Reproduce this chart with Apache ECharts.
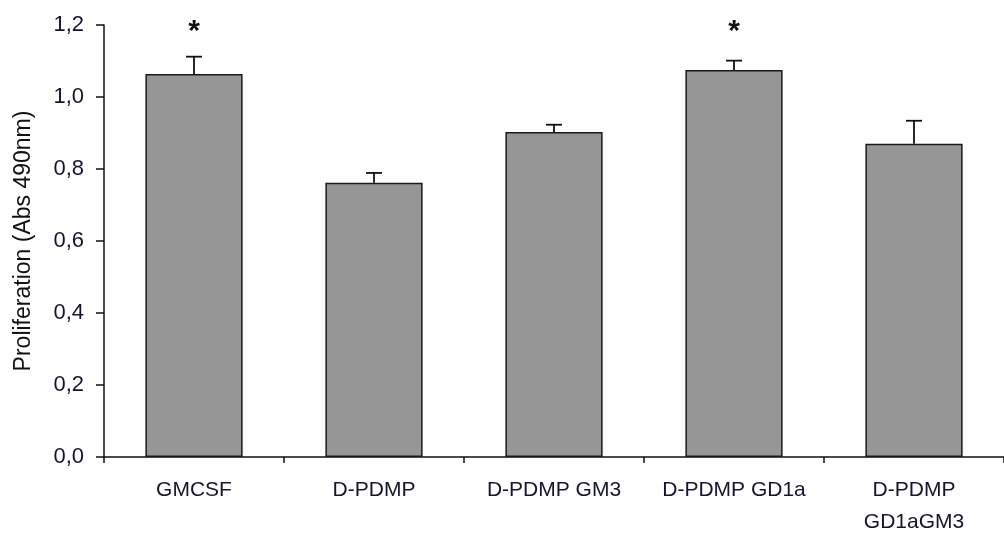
<!DOCTYPE html>
<html>
<head>
<meta charset="utf-8">
<script src="https://cdn.jsdelivr.net/npm/echarts@6/dist/echarts.min.js"></script>
<style>
html,body{margin:0;padding:0;background:#fff;}
#chart{width:1004px;height:538px;}
</style>
</head>
<body>
<div id="chart"></div>
<script>
var categories = ['GMCSF', 'D-PDMP', 'D-PDMP GM3', 'D-PDMP GD1a', 'D-PDMP\nGD1aGM3'];
var means = [1.064, 0.762, 0.903, 1.075, 0.870];
var errTops = [1.112, 0.789, 0.923, 1.101, 0.934];
var sigMarks = ['*', '', '', '*', ''];
var sigLevel = [1.195, null, null, 1.195, null];
var yTicks = [0, 0.2, 0.4, 0.6, 0.8, 1.0, 1.2];

var FONT = 'Liberation Sans, Arial, sans-serif';
var chart = echarts.init(document.getElementById('chart'), null, {renderer: 'canvas'});

var errData = categories.map(function (c, i) { return [i, means[i], errTops[i]]; });
var starData = categories.map(function (c, i) { return [i, sigLevel[i], sigMarks[i]]; })
  .filter(function (d) { return d[2] !== ''; });

chart.setOption({
  animation: false,
  backgroundColor: '#ffffff',
  grid: {left: 104, right: -5, top: 25, bottom: 80, containLabel: false},
  xAxis: {
    type: 'category',
    data: categories,
    boundaryGap: true,
    axisLine: {show: true, lineStyle: {color: '#111', width: 1.5}},
    axisTick: {show: true, length: 6, alignWithLabel: false, lineStyle: {color: '#111', width: 1.5}},
    axisLabel: {
      color: '#151530', fontFamily: FONT, fontSize: 21, margin: 17,
      lineHeight: 32, interval: 0
    },
    splitLine: {show: false}
  },
  yAxis: {
    type: 'value',
    min: yTicks[0],
    max: yTicks[yTicks.length - 1],
    interval: 0.2,
    name: 'Proliferation (Abs 490nm)',
    nameLocation: 'middle',
    nameGap: 69,
    nameTextStyle: {color: '#111', fontFamily: FONT, fontSize: 23},
    axisLine: {show: true, lineStyle: {color: '#111', width: 1.5}},
    axisTick: {show: true, length: 8, lineStyle: {color: '#111', width: 1.5}},
    axisLabel: {
      color: '#151530', fontFamily: FONT, fontSize: 22, margin: 20,
      formatter: function (v) { return v.toFixed(1).replace('.', ','); }
    },
    splitLine: {show: false}
  },
  series: [
    {
      type: 'bar',
      data: means,
      barWidth: '54%',
      itemStyle: {color: '#969696', borderColor: '#1a1a1a', borderWidth: 1.5},
      z: 2
    },
    {
      type: 'custom',
      data: errData,
      z: 3,
      renderItem: function (params, api) {
        var x = api.value(0);
        var base = api.coord([x, api.value(1)]);
        var top = api.coord([x, api.value(2)]);
        var cap = 8;
        var st = {stroke: '#111', lineWidth: 1.8};
        return {
          type: 'group',
          children: [
            {type: 'line', shape: {x1: base[0], y1: base[1], x2: top[0], y2: top[1]}, style: st},
            {type: 'line', shape: {x1: top[0] - cap, y1: top[1], x2: top[0] + cap, y2: top[1]}, style: st}
          ]
        };
      }
    },
    {
      type: 'custom',
      data: starData,
      z: 4,
      renderItem: function (params, api) {
        var p = api.coord([api.value(0), api.value(1)]);
        return {
          type: 'text',
          style: {
            x: p[0], y: p[1] + 5, text: sigMarks[api.value(0)],
            fill: '#111', font: 'bold 30px ' + FONT,
            textAlign: 'center', textVerticalAlign: 'middle'
          }
        };
      }
    }
  ]
});
</script>
</body>
</html>
